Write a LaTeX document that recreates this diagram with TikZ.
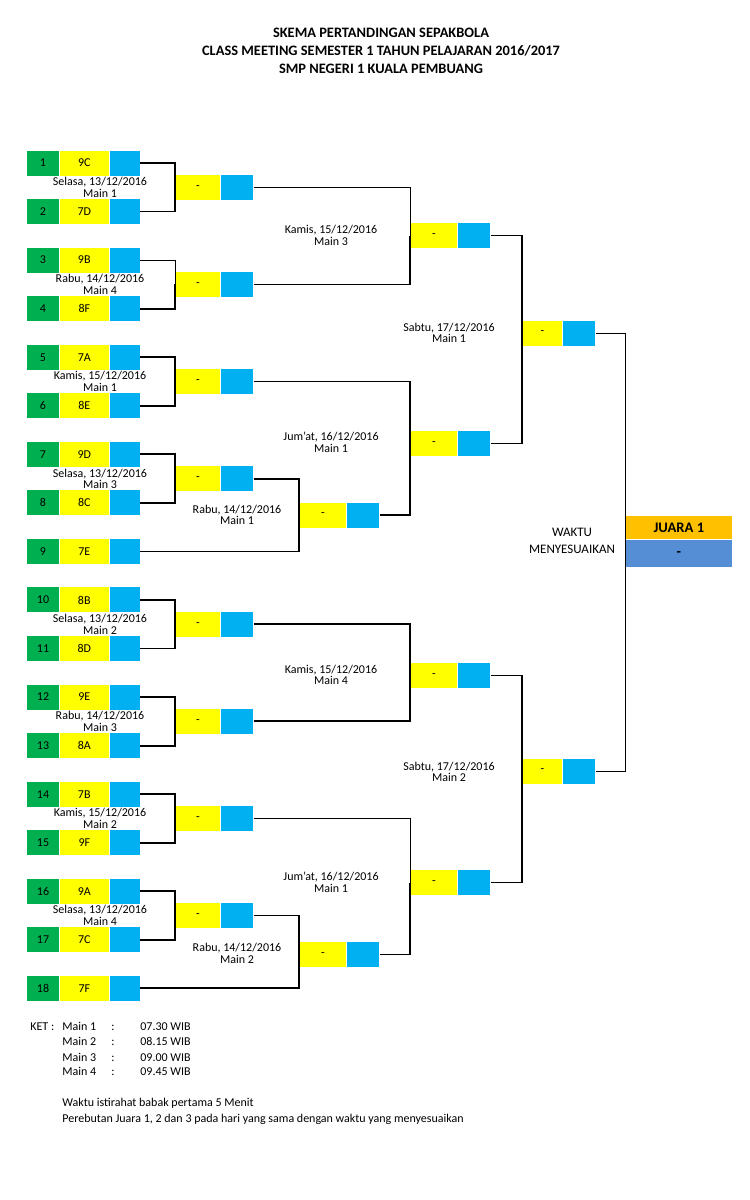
\documentclass[tikz,border=0pt]{standalone}
\usepackage{fontspec}
\setmainfont{Carlito}
\usepackage{tikz}
\usetikzlibrary{positioning}
\definecolor{xlgreen}{HTML}{00B050}
\definecolor{xlyellow}{HTML}{FFFF00}
\definecolor{xlblue}{HTML}{00B0F0}
\definecolor{xlorange}{HTML}{FFC000}
\definecolor{xlsteel}{HTML}{558ED5}
\newcommand{\cellfont}{\fontsize{6}{5.8}\selectfont}

\begin{document}
\begin{tikzpicture}[x=0.5pt, y=-0.5pt,
  numcell/.style={fill=xlgreen, minimum width=16pt, minimum height=12.5pt, inner sep=0pt, font=\cellfont},
  namecell/.style={fill=xlyellow, minimum width=24.5pt, minimum height=12.5pt, inner sep=0pt, font=\cellfont},
  ptcell/.style={fill=xlblue, minimum width=15pt, minimum height=12.5pt, inner sep=0pt},
  dashcell/.style={fill=xlyellow, minimum height=12.5pt, inner sep=0pt, font=\cellfont},
  wire/.style={line width=0.9pt},
  thinwire/.style={line width=0.5pt},
  note/.style={font=\cellfont, align=center, inner sep=0pt},
  keytext/.style={font=\cellfont, anchor=west, inner sep=0pt, text height=4.3pt, text depth=1.3pt}
]
\useasboundingbox[fill=white] (0,0) rectangle (750,1200);

% title
\node[font=\fontsize{7.2}{9}\selectfont\bfseries, align=center] (title) at (381,51)
  {SKEMA PERTANDINGAN SEPAKBOLA\\CLASS MEETING SEMESTER 1 TAHUN PELAJARAN 2016/2017\\SMP NEGERI 1 KUALA PEMBUANG};

% schedule notes (under the cells)
\foreach \d/\x/\y/\txt in {
  d1/100/187.5/{Selasa, 13/12/2016\\Main 1},
  d2/100/284.5/{Rabu, 14/12/2016\\Main 4},
  d3/100/381.5/{Kamis, 15/12/2016\\Main 1},
  d4/100/479/{Selasa, 13/12/2016\\Main 3},
  d5/237/515/{Rabu, 14/12/2016\\Main 1},
  d6/100/624.5/{Selasa, 13/12/2016\\Main 2},
  d7/100/721.5/{Rabu, 14/12/2016\\Main 3},
  d8/100/818.5/{Kamis, 15/12/2016\\Main 2},
  d9/100/915.5/{Selasa, 13/12/2016\\Main 4},
  d10/237/953.5/{Rabu, 14/12/2016\\Main 2},
  d11/331/235.5/{Kamis, 15/12/2016\\Main 3},
  d12/331/442.5/{Jum'at, 16/12/2016\\Main 1},
  d13/331/675/{Kamis, 15/12/2016\\Main 4},
  d14/331/882/{Jum'at, 16/12/2016\\Main 1},
  d15/449/333/{Sabtu, 17/12/2016\\Main 1},
  d16/449/772/{Sabtu, 17/12/2016\\Main 2}}
  \node[note] (\d) at (\x,\y) {\txt};
\node[note, font=\fontsize{6.5}{8.5}\selectfont] (d17) at (572,540.5) {WAKTU\\MENYESUAIKAN};

% teams
\foreach \i/\team in {1/9C,2/7D,3/9B,4/8F,5/7A,6/8E,7/9D,8/8C,9/7E,
                      10/8B,11/8D,12/9E,13/8A,14/7B,15/9F,16/9A,17/7C,18/7F}{
  \node[numcell] (n\i) at (43,{163+(\i-1)*48.55}) {\i};
  \node[namecell, right=0pt of n\i] (t\i) {\team};
  \node[ptcell, right=0pt of t\i] (p\i) {};
}

% match cells
\foreach \m/\x/\y/\w in {m1/175/187.3/22.5, m2/175/284.4/22.5, m3/175/381.5/22.5,
    m4/175/478.6/22.5, m5/299/515/23.5, m6/175/624.2/22.5, m7/175/721.3/22.5,
    m8/175/818.4/22.5, m9/175/915.5/22.5, m10/299/954.5/23.5,
    q1/410/235.5/23.5, q2/410/443.5/23.5, q3/410/675.5/23.5, q4/410/882.5/23.5,
    s1/522/333/20, s2/522/771/20}{
  \node[dashcell, minimum width=\w pt, anchor=west] (\m) at (\x,\y) {-};
  \node[ptcell, minimum width=16pt, right=0pt of \m] (\m p) {};
}

% champion
\node[fill=xlorange, minimum width=53.5pt, minimum height=11.5pt, inner sep=0pt,
      anchor=north west, font=\fontsize{7.3}{8}\selectfont\bfseries] (juara) at (625,516) {JUARA 1};
\node[fill=xlsteel, minimum width=53.5pt, minimum height=13.5pt, inner sep=0pt,
      below=0pt of juara, font=\fontsize{7.3}{8}\selectfont\bfseries] (juarab) {-};

% brackets
\foreach \a/\b in {p1/m1, p2/m1, p4/m2, p5/m3, p6/m3, p7/m4, p8/m4,
                   p10/m6, p11/m6, p12/m7, p13/m7, p14/m8, p15/m8, p16/m9, p17/m9,
                   m4p/m5, p9/m5, m9p/m10, p18/m10,
                   m2p/q1, m3p/q2, m5p/q2, m6p/q3, m7p/q3, m10p/q4,
                   q1p/s1, q2p/s1, q3p/s2, q4p/s2}
  \draw[wire] (\a.east) -| (\b.west);
\foreach \a/\b in {p3/m2, m1p/q1, m8p/q4}
  \draw[thinwire] (\a.east) -| (\b.west);
\draw[thinwire] (s1p.east) -| (juara.south west);
\draw[thinwire] (s2p.east) -| (juara.south west);

% key
\node[keytext] (ket) at (30,1027) {KET :};
\foreach \i/\t/\y in {1/07.30/1027, 2/08.15/1042, 3/09.00/1058, 4/09.45/1072}{
  \node[keytext] (km\i) at (62,\y) {Main \i};
  \node[keytext] (kc\i) at (111,\y) {:};
  \node[keytext] (kt\i) at (140,\y) {\t\ WIB};
}
\node[keytext] (rest) at (62,1103) {Waktu istirahat babak pertama 5 Menit};
\node[keytext] (final) at (62,1119) {Perebutan Juara 1, 2 dan 3 pada hari yang sama dengan waktu yang menyesuaikan};
\end{tikzpicture}
\end{document}
